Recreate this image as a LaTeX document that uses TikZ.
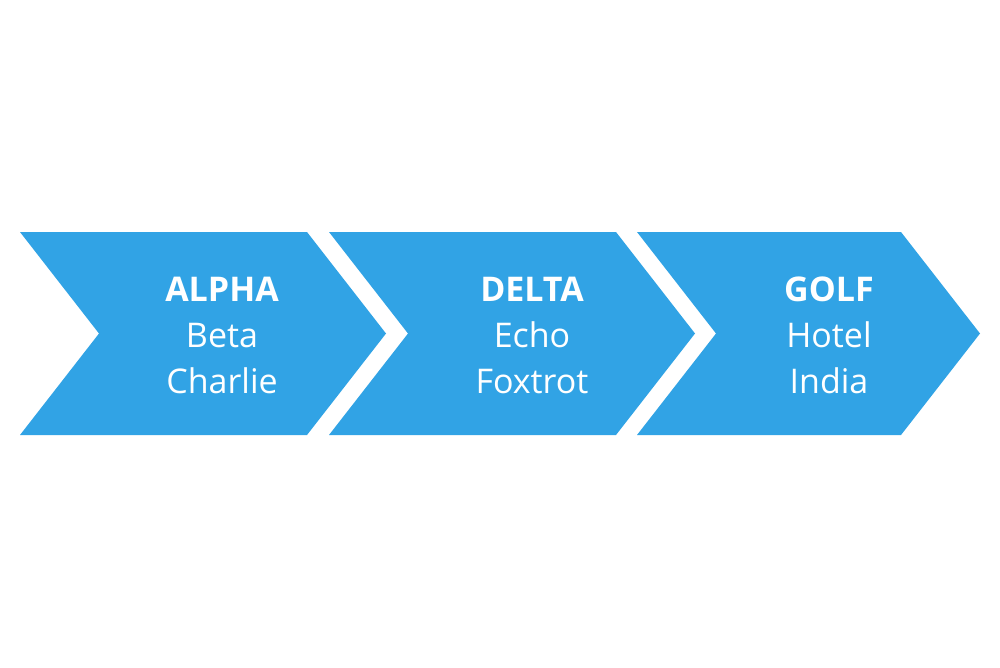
\documentclass[tikz,border=0pt]{standalone}
\usepackage{fontspec}
\setmainfont{Open Sans}
\definecolor{chev}{RGB}{49,163,229}
\begin{document}
\begin{tikzpicture}[x=1pt,y=-1pt,
  chevfill/.style={fill=chev,draw=none},
  label/.style={text=white,align=center,font=\fontsize{34}{46}\selectfont,anchor=base,inner sep=0pt}]
\useasboundingbox (0,0) rectangle (1000,667);
\fill[white] (0,0) rectangle (1000,667);
\path[chevfill] (20,232) -- (307,232) -- (386,333.5) -- (307,435) -- (20,435) -- (99,333.5) -- cycle;
\path[chevfill] (329,232) -- (616,232) -- (695,333.5) -- (616,435) -- (329,435) -- (408,333.5) -- cycle;
\path[chevfill] (637,232) -- (901,232) -- (980,333.5) -- (901,435) -- (637,435) -- (716,333.5) -- cycle;
\node[label] (a1) at (222,301.5) {\textbf{ALPHA}};
\node[label] (a2) at (222,347.5) {Beta};
\node[label] (a3) at (222,393.5) {Charlie};
\node[label] (d1) at (532,301.5) {\textbf{DELTA}};
\node[label] (d2) at (532,347.5) {Echo};
\node[label] (d3) at (532,393.5) {Foxtrot};
\node[label] (g1) at (829,301.5) {\textbf{GOLF}};
\node[label] (g2) at (829,347.5) {Hotel};
\node[label] (g3) at (829,393.5) {India};
\end{tikzpicture}
\end{document}
